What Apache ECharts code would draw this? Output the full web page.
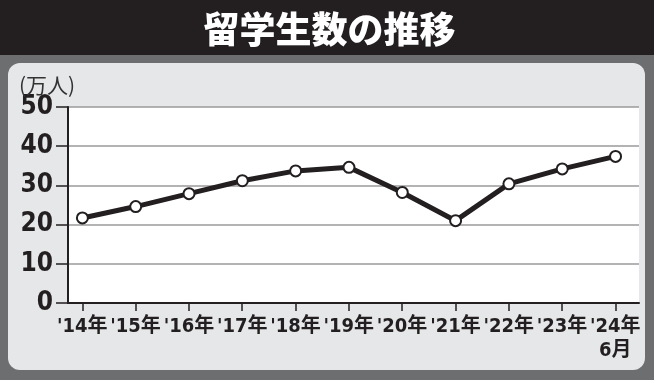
<!DOCTYPE html>
<html>
<head>
<meta charset="utf-8">
<script src="https://cdn.jsdelivr.net/npm/echarts@6/dist/echarts.min.js"></script>
<style>
html,body{margin:0;padding:0;background:#fff;}
#c{width:659px;height:383px;}
</style>
</head>
<body>
<div id="c"></div>
<script>
// Data
const categories = ["'14年", "'15年", "'16年", "'17年", "'18年", "'19年", "'20年", "'21年", "'22年", "'23年", "'24年\n6月"];
const students = [21.7, 24.6, 27.9, 31.2, 33.7, 34.6, 28.2, 21.0, 30.4, 34.2, 37.4];
const yMin = 0, yMax = 50, yInterval = 10;
const titleText = '留学生数の推移';
const unitText = '(万人)';

const numFont = "'Liberation Sans Narrow', 'DejaVu Sans Condensed', 'Noto Sans CJK JP', sans-serif";
const chart = echarts.init(document.getElementById('c'), null, {renderer: 'canvas'});
const idx = categories.map((_, i) => i);

chart.setOption({
  animation: false,
  backgroundColor: 'transparent',
  graphic: [
    {type: 'rect', z: -10, silent: true, shape: {x: 0, y: 0, width: 654, height: 380}, style: {fill: '#6d6e70'}},
    {type: 'rect', z: -9, silent: true, shape: {x: 0, y: 0, width: 654, height: 55}, style: {fill: '#231f20'}},
    {type: 'rect', z: -8, silent: true, shape: {x: 8, y: 63, width: 637, height: 307, r: 12}, style: {fill: '#e6e7e8'}}
  ],
  title: [
    {text: titleText, left: 'center', top: 6,
     textStyle: {color: '#fff', fontSize: 36, fontWeight: 900, fontFamily: "'Noto Sans CJK JP', sans-serif"}},
    {text: unitText, left: 14, top: 70,
     textStyle: {color: '#333', fontSize: 21, fontWeight: 'normal', fontFamily: "'Noto Sans CJK JP', sans-serif"}}
  ],
  grid: [
    {left: 68, top: 107, right: 20, bottom: 80, show: true, backgroundColor: '#fff', borderWidth: 0},
    {left: 82.3, top: 107, right: 43.7, bottom: 80, show: false}
  ],
  xAxis: [{
    type: 'value', gridIndex: 0,
    min: -0.27, max: 10.44,
    axisLine: {show: true, onZero: false, lineStyle: {color: '#231f20', width: 2}},
    splitLine: {show: false},
    axisTick: {show: false},
    axisLabel: {show: false}
  }, {
    type: 'category', gridIndex: 1, data: categories, boundaryGap: false,
    axisLine: {show: false, onZero: false},
    splitLine: {show: false},
    axisTick: {show: true, interval: 0, length: 8, lineStyle: {color: '#231f20', width: 1.5}},
    axisLabel: {
      show: true, interval: 0, margin: 12, hideOverlap: false,
      color: '#231f20', fontSize: 20, fontWeight: 'bold', lineHeight: 24, fontFamily: numFont
    }
  }],
  yAxis: [{
    type: 'value', gridIndex: 0, min: yMin, max: yMax, interval: yInterval,
    axisLine: {show: true, onZero: false, lineStyle: {color: '#231f20', width: 2}},
    axisTick: {show: true, length: 12, lineStyle: {color: '#231f20', width: 1.5}},
    splitLine: {show: true, lineStyle: {color: '#9a9a9a', width: 1.5}},
    axisLabel: {margin: 15, color: '#231f20', fontSize: 26, fontWeight: 'bold', fontFamily: numFont}
  }, {
    type: 'value', gridIndex: 1, min: yMin, max: yMax, show: false
  }],
  series: [{
    type: 'line', xAxisIndex: 0, yAxisIndex: 0,
    data: students.map((v, i) => [i, v]),
    symbol: 'circle', symbolSize: 11,
    lineStyle: {color: '#231f20', width: 5},
    itemStyle: {color: '#fff', borderColor: '#231f20', borderWidth: 2},
    z: 5
  }]
});
</script>
</body>
</html>
